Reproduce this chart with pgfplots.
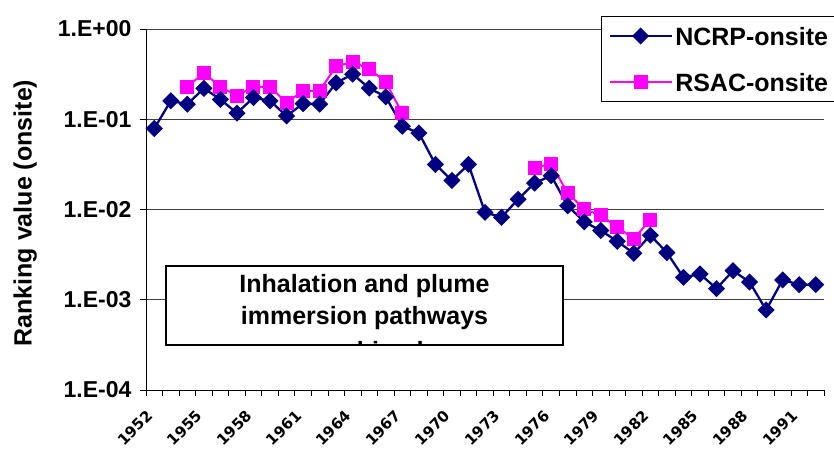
\documentclass[border=0pt]{standalone}
\usepackage{fontspec}
\setmainfont{Liberation Sans}
\newfontfamily\dejab{DejaVu Sans}
\usepackage{graphicx}
\usepackage{pgfplots}
\pgfplotsset{compat=1.18}
\definecolor{ncrp}{RGB}{0,0,128}
\definecolor{rsac}{RGB}{255,0,255}
\newcommand\yr[1]{\rotatebox{45}{#1}}
\begin{document}
\begin{tikzpicture}
\begin{axis}[
  at={(146pt,61pt)}, anchor=south west,
  scale only axis, width=678pt, height=361pt,
  xmin=-0.5, xmax=40.5,
  ymode=log, ymin=1e-4, ymax=1,
  axis lines=left, axis line style={-, black, line width=1pt},
  tick align=outside, major tick length=6pt,
  tick style={black, line width=0.8pt},
  xminorticks=false, yminorticks=false,
  xtick={-0.5,0.5,...,40.5},
  xticklabels={\yr{1952},,,\yr{1955},,,\yr{1958},,,\yr{1961},,,\yr{1964},,,\yr{1967},,,\yr{1970},,,\yr{1973},,,\yr{1976},,,\yr{1979},,,\yr{1982},,,\yr{1985},,,\yr{1988},,,\yr{1991},,},
  xticklabel style={font=\dejab\bfseries\fontsize{15}{17}\selectfont, xshift=8pt, yshift=-13pt, anchor=north east, inner sep=0pt},
  ytick={1e-4,1e-3,1e-2,1e-1,1},
  yticklabels={1.E-04,1.E-03,1.E-02,1.E-01,1.E+00},
  yticklabel style={font=\fontsize{23}{26}\selectfont\bfseries, xshift=-5pt},
  ymajorgrids, major grid style={black!75, line width=0.8pt},
  ylabel={Ranking value (onsite)},
  ylabel style={font=\fontsize{25}{28}\selectfont\bfseries, at={(axis description cs:-0.178,0.49)}, anchor=center},
  unbounded coords=jump,
  reverse legend,
  legend cell align=left,
  legend style={at={(axis description cs:0.671,1.036)}, anchor=north west,
    draw=black, line width=1pt, font=\fontsize{25}{28}\selectfont\bfseries,
    inner xsep=7pt, inner ysep=8pt, row sep=23pt,
    nodes={inner sep=2.5pt, text height=18pt, text depth=0pt}},
  legend image code/.code={\draw[#1,mark repeat=2,mark phase=2] plot coordinates {(0pt,0pt) (31pt,0pt) (62pt,0pt)};},
]
\addplot[rsac, line width=2pt, mark=square*, mark size=6pt, mark options={solid}] coordinates {
(2,0.229) (3,0.327) (4,0.229) (5,0.183) (6,0.229) (7,0.229) (8,0.152) (9,0.206) (10,0.206)
(11,0.388) (12,0.43) (13,0.362) (14,0.258) (15,0.116) (16,nan)
(23,0.029) (24,0.0321) (25,0.0152) (26,0.0101) (27,0.00865) (28,0.00636) (29,0.00476) (30,0.00768)
};
\addlegendentry{RSAC-onsite}
\addplot[ncrp, line width=2.3pt, mark=square*, mark size=4.9pt, mark options={solid, rotate=45}] coordinates {
(0,0.079) (1,0.16) (2,0.147) (3,0.22) (4,0.166) (5,0.117) (6,0.174) (7,0.16) (8,0.109) (9,0.149)
(10,0.147) (11,0.253) (12,0.316) (13,0.221) (14,0.177) (15,0.0836) (16,0.0705) (17,0.0316) (18,0.021) (19,0.0316)
(20,0.0093) (21,0.0082) (22,0.013) (23,0.0196) (24,0.0237) (25,0.011) (26,0.0073) (27,0.00585) (28,0.00445) (29,0.00327)
(30,0.00519) (31,0.00333) (32,0.00177) (33,0.00193) (34,0.00133) (35,0.0021) (36,0.00157) (37,0.00077) (38,0.00166) (39,0.00147)
(40,0.00147)
};
\addlegendentry{NCRP-onsite}
\end{axis}
\fill[white] (166pt,106pt) rectangle (563pt,185pt);
\begin{scope}
\clip (166pt,106pt) rectangle (563pt,185pt);
\node[font=\fontsize{25}{28}\selectfont\bfseries, anchor=base, inner sep=0pt] at (364.5pt,158.3pt) {Inhalation and plume};
\node[font=\fontsize{25}{28}\selectfont\bfseries, anchor=base, inner sep=0pt] at (364.5pt,127pt) {immersion pathways};
\node[font=\fontsize{25}{28}\selectfont\bfseries, anchor=base, inner sep=0pt] at (364.5pt,91.5pt) {combined};
\end{scope}
\draw[black, line width=1.5pt] (166pt,106pt) rectangle (563pt,185pt);
\pgfresetboundingbox
\useasboundingbox (0,0) rectangle (834pt,451pt);
\end{tikzpicture}
\end{document}
